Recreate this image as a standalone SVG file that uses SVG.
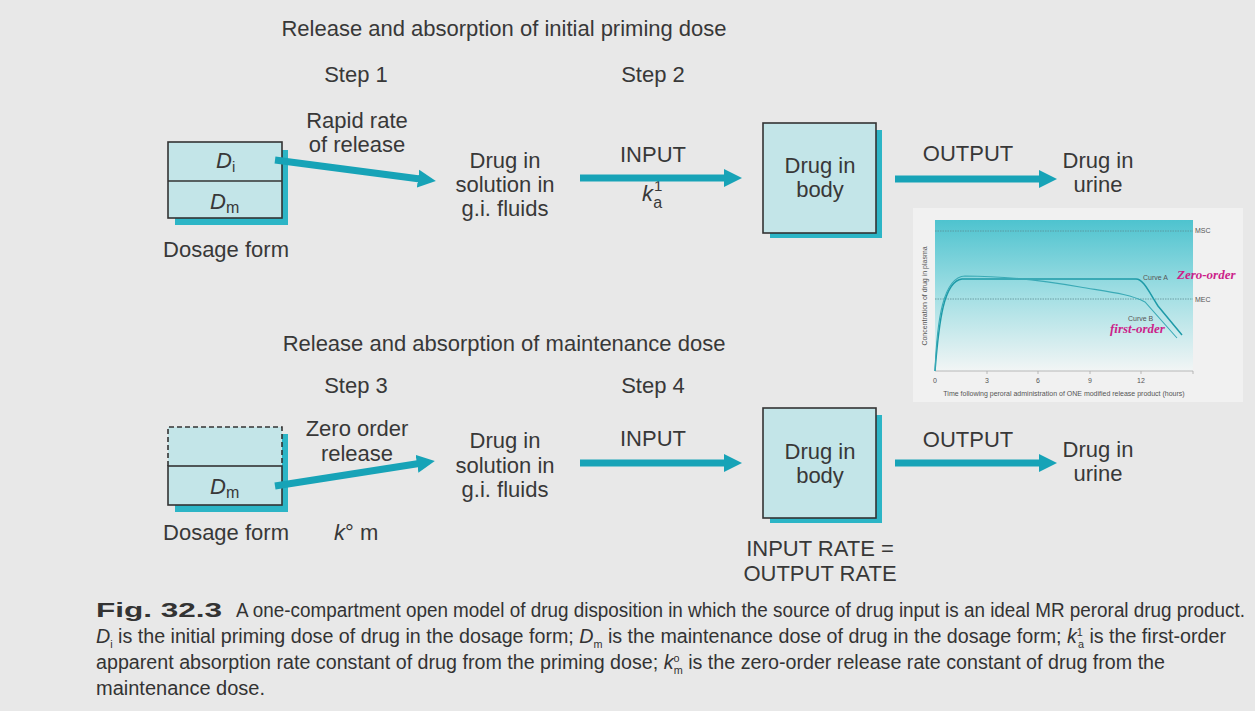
<svg xmlns="http://www.w3.org/2000/svg" width="1255" height="711" viewBox="0 0 1255 711">
<defs>
<style>
.t{font-family:"Liberation Sans",Arial,sans-serif;font-size:22px;fill:#383838;text-anchor:middle}
.tl{font-family:"Liberation Sans",Arial,sans-serif;font-size:22px;fill:#383838}
.box{fill:#c3e5e8;stroke:#333;stroke-width:1.6}
.sh{fill:#2cb5c6}
.arr{stroke:#17a3b7;stroke-width:7;fill:none}
.cap{font-family:"Liberation Sans Narrow","Liberation Sans",sans-serif;font-size:20px;fill:#333}
.sm{font-family:"Liberation Sans",Arial,sans-serif;font-size:7px;fill:#555}
.mag{font-family:"Liberation Serif","Times New Roman",serif;font-size:13px;font-weight:bold;font-style:italic;fill:#cc1f8a}
</style>
<marker id="ah" markerUnits="userSpaceOnUse" markerWidth="20" markerHeight="20" viewBox="0 0 20 20" refX="2" refY="10" orient="auto">
<path d="M0,1 L18,10 L0,19 Z" fill="#17a3b7"/>
</marker>
<linearGradient id="pg" x1="0" y1="0" x2="0" y2="1">
<stop offset="0" stop-color="#4ec3cf"/>
<stop offset="0.5" stop-color="#a3dfe4"/>
<stop offset="1" stop-color="#f2f5f5"/>
</linearGradient>
</defs>
<rect width="1255" height="711" fill="#e8e8e8"/>

<text class="t" x="504" y="36">Release and absorption of initial priming dose</text>
<text class="t" x="356" y="82">Step 1</text>
<text class="t" x="653" y="82">Step 2</text>
<text class="t" x="504" y="351">Release and absorption of maintenance dose</text>
<text class="t" x="356" y="393">Step 3</text>
<text class="t" x="653" y="393">Step 4</text>

<g id="dosage1">
<rect class="sh" x="175" y="150" width="113" height="75"/>
<rect class="box" x="168" y="142" width="114" height="76"/>
<line x1="168" y1="181" x2="282" y2="181" stroke="#333" stroke-width="1.6"/>
<text class="tl" x="216" y="168"><tspan font-style="italic">D</tspan><tspan font-size="15" dy="4">i</tspan></text>
<text class="tl" x="210" y="209"><tspan font-style="italic">D</tspan><tspan font-size="16" dy="4">m</tspan></text>
<text class="t" x="226" y="257">Dosage form</text>
</g>

<g id="dosage2">
<rect class="sh" x="175" y="434" width="113" height="78"/>
<rect x="168" y="427" width="114" height="78" fill="#c3e5e8"/>
<path d="M168,466 V427 H282 V466" fill="none" stroke="#333" stroke-width="1.6" stroke-dasharray="5,3"/>
<rect class="box" x="168" y="466" width="114" height="39"/>
<text class="tl" x="210" y="494"><tspan font-style="italic">D</tspan><tspan font-size="16" dy="4">m</tspan></text>
<text class="t" x="226" y="540">Dosage form</text>
<text class="tl" x="334" y="540"><tspan font-style="italic">k</tspan>° m</text>
</g>

<g id="labels1">
<text class="t" x="357" y="128">Rapid rate</text>
<text class="t" x="357" y="152">of release</text>
<text class="t" x="505" y="168">Drug in</text>
<text class="t" x="505" y="192">solution in</text>
<text class="t" x="505" y="216">g.i. fluids</text>
<text class="t" x="653" y="162">INPUT</text>
<text class="tl" x="642" y="201"><tspan font-style="italic">k</tspan><tspan font-size="15" dx="1" dy="-10">1</tspan><tspan font-size="16" dx="-9" dy="17">a</tspan></text>
<text class="t" x="968" y="161">OUTPUT</text>
<text class="t" x="1098" y="168">Drug in</text>
<text class="t" x="1098" y="192">urine</text>
</g>

<g id="labels2">
<text class="t" x="357" y="436">Zero order</text>
<text class="t" x="357" y="461">release</text>
<text class="t" x="505" y="448">Drug in</text>
<text class="t" x="505" y="473">solution in</text>
<text class="t" x="505" y="497">g.i. fluids</text>
<text class="t" x="653" y="446">INPUT</text>
<text class="t" x="968" y="447">OUTPUT</text>
<text class="t" x="1098" y="457">Drug in</text>
<text class="t" x="1098" y="481">urine</text>
<text class="t" x="820" y="556">INPUT RATE =</text>
<text class="t" x="820" y="581">OUTPUT RATE</text>
</g>

<g id="body1">
<rect class="sh" x="770" y="130" width="112" height="108"/>
<rect class="box" x="763" y="123" width="113" height="110"/>
<text class="t" x="820" y="173">Drug in</text>
<text class="t" x="820" y="197">body</text>
</g>

<g id="body2">
<rect class="sh" x="770" y="415" width="112" height="108"/>
<rect class="box" x="763" y="408" width="113" height="110"/>
<text class="t" x="820" y="459">Drug in</text>
<text class="t" x="820" y="483">body</text>
</g>

<g id="connectors">
<line class="arr" x1="275" y1="160" x2="420" y2="179" marker-end="url(#ah)"/>
<line class="arr" x1="580" y1="178" x2="726" y2="178" marker-end="url(#ah)"/>
<line class="arr" x1="895" y1="179" x2="1041" y2="179" marker-end="url(#ah)"/>
<line class="arr" x1="275" y1="486" x2="419" y2="463.5" marker-end="url(#ah)"/>
<line class="arr" x1="580" y1="463" x2="726" y2="463" marker-end="url(#ah)"/>
<line class="arr" x1="895" y1="463" x2="1041" y2="463" marker-end="url(#ah)"/>
</g>

<g id="chart">
<rect x="913" y="208" width="330" height="194" fill="#f1f1f1"/>
<rect x="935" y="220" width="258" height="151" fill="url(#pg)"/>
<line x1="935" y1="231" x2="1193" y2="231" stroke="#5a8f96" stroke-width="0.8" stroke-dasharray="1.5,1"/>
<line x1="935" y1="299" x2="1193" y2="299" stroke="#5a8f96" stroke-width="0.8" stroke-dasharray="1.5,1"/>
<line x1="935" y1="371" x2="1193" y2="371" stroke="#aaa" stroke-width="0.8"/>
<g stroke="#aaa" stroke-width="0.8">
<line x1="987" y1="371" x2="987" y2="374"/><line x1="1038" y1="371" x2="1038" y2="374"/>
<line x1="1090" y1="371" x2="1090" y2="374"/><line x1="1141" y1="371" x2="1141" y2="374"/>
<line x1="1193" y1="371" x2="1193" y2="374"/>
</g>
<path d="M935,371 C939,320 944,281 962,279 L1136,279 C1143,279 1148,290 1158,306 L1182,335" fill="none" stroke="#1e9aa8" stroke-width="1.5"/>
<path d="M935,371 C937,320 943,277 965,276 C1000,276 1040,280 1080,287 C1110,292 1130,294 1145,302 L1177,338" fill="none" stroke="#3aaab6" stroke-width="1.1"/>
<text class="sm" x="1195" y="233">MSC</text>
<text class="sm" x="1195" y="302">MEC</text>
<text class="sm" x="1143" y="280">Curve A</text>
<text class="sm" x="1128" y="321">Curve B</text>
<text class="mag" x="1177" y="279">Zero-order</text>
<text class="mag" x="1110" y="333">first-order</text>
<g class="sm">
<text x="935" y="383" text-anchor="middle">0</text>
<text x="987" y="383" text-anchor="middle">3</text>
<text x="1038" y="383" text-anchor="middle">6</text>
<text x="1090" y="383" text-anchor="middle">9</text>
<text x="1141" y="383" text-anchor="middle">12</text>
</g>
<text class="sm" x="1064" y="396" text-anchor="middle">Time following peroral administration of ONE modified release product (hours)</text>
<text class="sm" x="0" y="0" text-anchor="middle" transform="translate(927,296) rotate(-90)">Concentration of drug in plasma</text>
</g>

<g id="caption">
<text class="cap" x="96" y="617" font-size="23" font-weight="bold" textLength="126" lengthAdjust="spacingAndGlyphs">Fig. 32.3</text>
<text class="cap" x="236" y="617" textLength="1009" lengthAdjust="spacingAndGlyphs">A one-compartment open model of drug disposition in which the source of drug input is an ideal MR peroral drug product.</text>
<text class="cap" x="96" y="643" textLength="1130" lengthAdjust="spacingAndGlyphs"><tspan font-style="italic">D</tspan><tspan font-size="11" dy="5">i</tspan><tspan dy="-5"> is the initial priming dose of drug in the dosage form; </tspan><tspan font-style="italic">D</tspan><tspan font-size="11" dy="5">m</tspan><tspan dy="-5"> is the maintenance dose of drug in the dosage form; </tspan><tspan font-style="italic">k</tspan><tspan font-size="11" dy="-7">1</tspan><tspan font-size="11" dx="-5" dy="12">a</tspan><tspan dy="-5"> is the first-order</tspan></text>
<text class="cap" x="96" y="669" textLength="1069" lengthAdjust="spacingAndGlyphs">apparent absorption rate constant of drug from the priming dose; <tspan font-style="italic">k</tspan><tspan font-size="11" dy="-7">o</tspan><tspan font-size="11" dx="-6" dy="12">m</tspan><tspan dy="-5"> is the zero-order release rate constant of drug from the</tspan></text>
<text class="cap" x="96" y="695">maintenance dose.</text>
</g>
</svg>
